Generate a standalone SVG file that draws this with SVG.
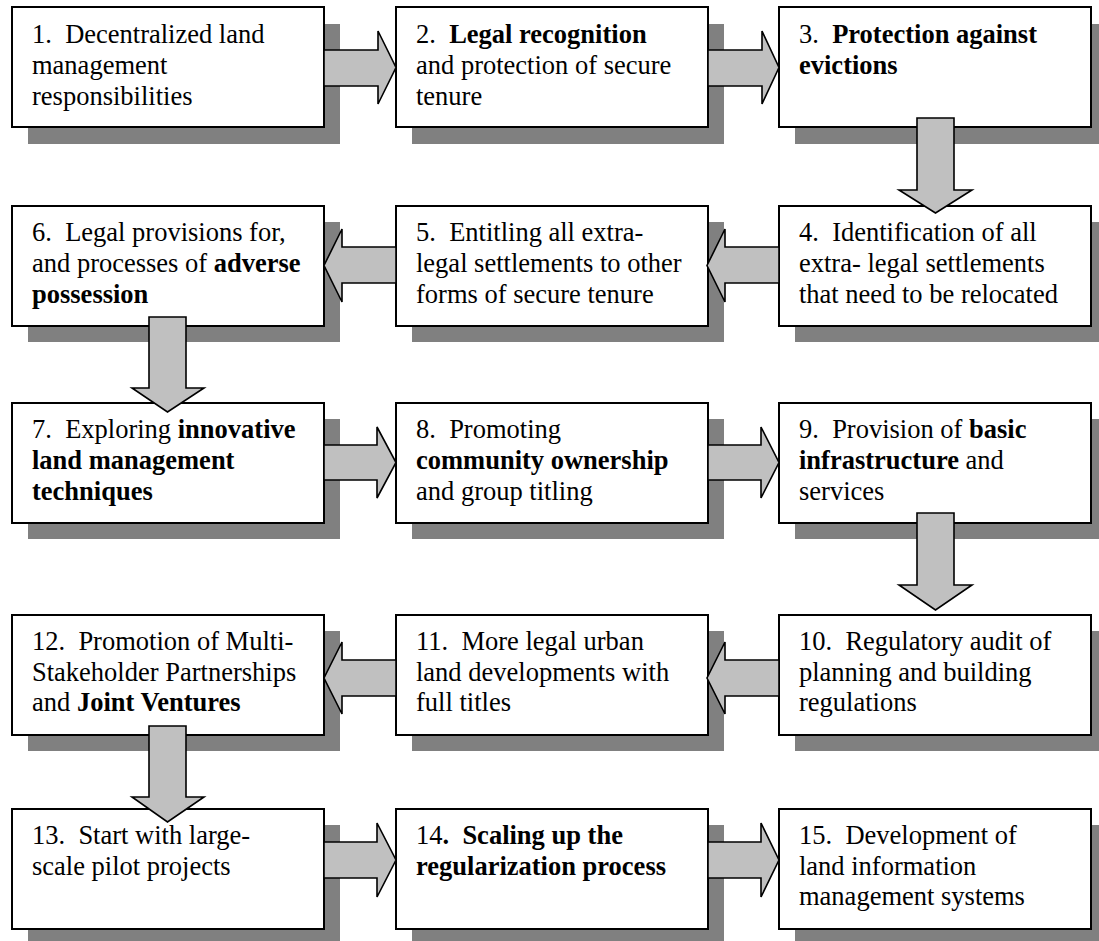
<svg xmlns="http://www.w3.org/2000/svg" width="1099" height="941" viewBox="0 0 1099 941">
<style>
.sh{fill:#808080;stroke:none}
.bx{fill:#ffffff;stroke:#000000;stroke-width:2}
.ar{fill:#c0c0c0;stroke:#000000;stroke-width:1.6;stroke-linejoin:miter}
text{font-family:"Liberation Serif","Times New Roman",serif;font-size:26.5px;fill:#000000}
.b{font-weight:bold}
</style>
<rect width="1099" height="941" fill="#ffffff"/>
<g id="node1"><rect class="sh" x="28" y="24" width="312" height="120"/><rect class="bx" x="12" y="7" width="312" height="120"/>
<text x="32" y="43">1.&#160; Decentralized land</text><text x="32" y="74">management</text><text x="32" y="105">responsibilities</text></g>
<g id="node2"><rect class="sh" x="412" y="24" width="312" height="120"/><rect class="bx" x="396" y="7" width="312" height="120"/>
<text x="416" y="43">2.&#160; <tspan class="b">Legal recognition</tspan></text><text x="416" y="74">and protection of secure</text><text x="416" y="105">tenure</text></g>
<g id="node3"><rect class="sh" x="795" y="24" width="312" height="120"/><rect class="bx" x="779" y="7" width="312" height="120"/>
<text x="799" y="43">3.&#160; <tspan class="b">Protection against</tspan></text><text x="799" y="74" class="b">evictions</text></g>
<g id="node4"><rect class="sh" x="795" y="222" width="312" height="120"/><rect class="bx" x="779" y="206" width="312" height="120"/>
<text x="799" y="241">4.&#160; Identification of all</text><text x="799" y="272">extra- legal settlements</text><text x="799" y="303">that need to be relocated</text></g>
<g id="node5"><rect class="sh" x="412" y="222" width="312" height="120"/><rect class="bx" x="396" y="206" width="312" height="120"/>
<text x="416" y="241">5.&#160; Entitling all extra-</text><text x="416" y="272">legal settlements to other</text><text x="416" y="303">forms of secure tenure</text></g>
<g id="node6"><rect class="sh" x="28" y="222" width="312" height="120"/><rect class="bx" x="12" y="206" width="312" height="120"/>
<text x="32" y="241">6.&#160; Legal provisions for,</text><text x="32" y="272">and processes of <tspan class="b">adverse</tspan></text><text x="32" y="303" class="b">possession</text></g>
<g id="node7"><rect class="sh" x="28" y="419" width="312" height="120"/><rect class="bx" x="12" y="403" width="312" height="120"/>
<text x="32" y="438">7.&#160; Exploring <tspan class="b">innovative</tspan></text><text x="32" y="469" class="b">land management</text><text x="32" y="500" class="b">techniques</text></g>
<g id="node8"><rect class="sh" x="412" y="419" width="312" height="120"/><rect class="bx" x="396" y="403" width="312" height="120"/>
<text x="416" y="438">8.&#160; Promoting</text><text x="416" y="469" class="b">community ownership</text><text x="416" y="500">and group titling</text></g>
<g id="node9"><rect class="sh" x="795" y="419" width="312" height="120"/><rect class="bx" x="779" y="403" width="312" height="120"/>
<text x="799" y="438">9.&#160; Provision of <tspan class="b">basic</tspan></text><text x="799" y="469"><tspan class="b">infrastructure</tspan> and</text><text x="799" y="500">services</text></g>
<g id="node10"><rect class="sh" x="795" y="631" width="312" height="120"/><rect class="bx" x="779" y="615" width="312" height="120"/>
<text x="799" y="650">10.&#160; Regulatory audit of</text><text x="799" y="680.5">planning and building</text><text x="799" y="711">regulations</text></g>
<g id="node11"><rect class="sh" x="412" y="631" width="312" height="120"/><rect class="bx" x="396" y="615" width="312" height="120"/>
<text x="416" y="650">11.&#160; More legal urban</text><text x="416" y="680.5">land developments with</text><text x="416" y="711">full titles</text></g>
<g id="node12"><rect class="sh" x="28" y="631" width="312" height="120"/><rect class="bx" x="12" y="615" width="312" height="120"/>
<text x="32" y="650">12.&#160; Promotion of Multi-</text><text x="32" y="680.5">Stakeholder Partnerships</text><text x="32" y="711">and <tspan class="b">Joint Ventures</tspan></text></g>
<g id="node13"><rect class="sh" x="28" y="825" width="312" height="120"/><rect class="bx" x="12" y="809" width="312" height="120"/>
<text x="32" y="844">13.&#160; Start with large-</text><text x="32" y="874.5">scale pilot projects</text></g>
<g id="node14"><rect class="sh" x="412" y="825" width="312" height="120"/><rect class="bx" x="396" y="809" width="312" height="120"/>
<text x="416" y="844">14<tspan class="b">.&#160; Scaling up the</tspan></text><text x="416" y="874.5" class="b">regularization process</text></g>
<g id="node15"><rect class="sh" x="795" y="825" width="312" height="120"/><rect class="bx" x="779" y="809" width="312" height="120"/>
<text x="799" y="844">15.&#160; Development of</text><text x="799" y="874.5">land information</text><text x="799" y="905">management systems</text></g>
<g id="connectors">
<polygon class="ar" points="324,50 378,50 378,31 396,67.5 378,104 378,86 324,86"/>
<polygon class="ar" points="708,50 762,50 762,31 779,67.5 762,104 762,86 708,86"/>
<polygon class="ar" points="917,118 954,118 954,190 972,190 935.5,213 899,190 917,190"/>
<polygon class="ar" points="779,247 725,247 725,229 707,265.5 725,302 725,283 779,283"/>
<polygon class="ar" points="396,247 342,247 342,229 324,265.5 342,302 342,283 396,283"/>
<polygon class="ar" points="149,317 186,317 186,388 204,388 167.5,412 132,388 149,388"/>
<polygon class="ar" points="324,445 377,445 377,427 396,462.5 377,498 377,480 324,480"/>
<polygon class="ar" points="708,445 761,445 761,427 779,462.5 761,498 761,480 708,480"/>
<polygon class="ar" points="917,513 954,513 954,585 972,585 935.5,610 899,585 917,585"/>
<polygon class="ar" points="779,660 725,660 725,642 707,678 725,714 725,696 779,696"/>
<polygon class="ar" points="396,660 342,660 342,642 324,678 342,714 342,696 396,696"/>
<polygon class="ar" points="149,726 186,726 186,797 204,797 167.5,822 132,797 149,797"/>
<polygon class="ar" points="324,842 377,842 377,823 396,860 377,897 377,878 324,878"/>
<polygon class="ar" points="708,842 761,842 761,823 779,860 761,897 761,878 708,878"/>
</g>
</svg>
